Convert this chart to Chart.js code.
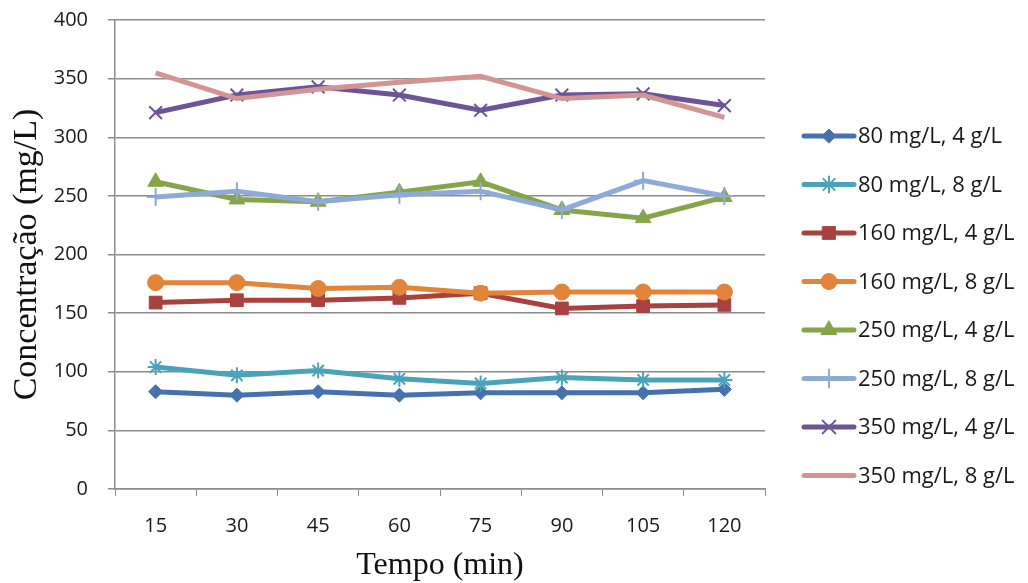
<!DOCTYPE html>
<html>
<head>
<meta charset="utf-8">
<script src="https://cdn.jsdelivr.net/npm/chart.js@4.4.1/dist/chart.umd.min.js"></script>
<style>
  html, body { margin: 0; padding: 0; background: #fff; }
  #wrap { width: 1028px; height: 583px; position: relative; }
</style>
</head>
<body>
<div id="wrap"><canvas id="myChart" width="1028" height="583"></canvas></div>
<script>
const tempos = ['15', '30', '45', '60', '75', '90', '105', '120'];

const c80_4 = [83, 80, 83, 80, 82, 82, 82, 85];
const c80_8 = [104, 97, 101, 94, 90, 95, 93, 93];
const c160_4 = [159, 161, 161, 163, 167, 154, 156, 157];
const c160_8 = [176, 176, 171, 172, 167, 168, 168, 168];
const c250_4 = [262, 247, 245, 253, 262, 238, 231, 249];
const c250_8 = [249, 254, 245, 251, 254, 238, 263, 250];
const c350_4 = [321, 336, 343, 336, 323, 336, 337, 327];
const c350_8 = [355, 333, 341, 347, 352, 333, 336, 317];

const seriesNames = ['80 mg/L, 4 g/L', '80 mg/L, 8 g/L', '160 mg/L, 4 g/L', '160 mg/L, 8 g/L',
  '250 mg/L, 4 g/L', '250 mg/L, 8 g/L', '350 mg/L, 4 g/L', '350 mg/L, 8 g/L'];
const seriesData = [c80_4, c80_8, c160_4, c160_8, c250_4, c250_8, c350_4, c350_8];
const colors = ['#4572AE', '#4AA3B8', '#A9413E', '#E2843A', '#86A44A', '#8EAAD6', '#6D5496', '#D39594'];
const markers = ['rectRot', 'star', 'rect', 'circle', 'triangle', 'cross', 'crossRot', false];
const radii = [7, 8, 9, 8, 9, 9, 9, 0];

const datasets = seriesNames.map((name, i) => ({
  label: name,
  data: seriesData[i],
  borderColor: colors[i],
  backgroundColor: colors[i],
  borderWidth: 5,
  pointStyle: markers[i],
  pointRadius: radii[i],
  pointBorderWidth: (markers[i] === 'star' || markers[i] === 'cross' || markers[i] === 'crossRot') ? 2 : 1,
  pointHoverRadius: radii[i],
  tension: 0,
  order: 7 - i
}));

// legend on the right: line sample with marker, then the label
const sideLegend = {
  id: 'sideLegend',
  afterDraw(chart) {
    const ctx = chart.ctx;
    ctx.save();
    datasets.forEach((ds, i) => {
      const y = 136 + i * 48.5;
      ctx.strokeStyle = ds.borderColor;
      ctx.lineWidth = 5;
      ctx.lineCap = 'round';
      ctx.beginPath();
      ctx.moveTo(804, y);
      ctx.lineTo(854, y);
      ctx.stroke();
      if (ds.pointStyle) {
        ctx.fillStyle = ds.backgroundColor;
        ctx.strokeStyle = ds.borderColor;
        ctx.lineWidth = ds.pointBorderWidth;
        Chart.helpers.drawPoint(ctx, { pointStyle: ds.pointStyle, radius: ds.pointRadius, rotation: 0, borderWidth: ds.pointBorderWidth }, 829, y);
      }
      ctx.fillStyle = '#1a1a1a';
      ctx.font = '22px "Open Sans"';
      ctx.textBaseline = 'middle';
      ctx.textAlign = 'left';
      ctx.fillText(ds.label, 858, y + 1);
    });
    ctx.restore();
  }
};

new Chart(document.getElementById('myChart'), {
  type: 'line',
  data: { labels: tempos, datasets: datasets },
  options: {
    responsive: false,
    animation: false,
    layout: { padding: { top: 20, right: 263, bottom: -2, left: 0 } },
    plugins: {
      legend: { display: false },
      tooltip: { enabled: false }
    },
    scales: {
      x: {
        offset: true,
        afterFit(scale) { scale.height = 96; },
        grid: { drawOnChartArea: false, offset: true, tickLength: 7, color: '#8c8c8c' },
        border: { color: '#8c8c8c', width: 1.5 },
        ticks: { color: '#1a1a1a', font: { family: 'Open Sans', size: 20 }, padding: 18, maxRotation: 0 },
        title: { display: true, text: 'Tempo (min)', color: '#111', font: { family: 'Liberation Serif', size: 32 }, padding: { top: 0, bottom: 0 } }
      },
      y: {
        min: 0,
        max: 400,
        afterFit(scale) { scale.width = 115; },
        // long tick with a dash pattern: labels sit 27px left of the axis, only 7px of mark shows
        ticks: { stepSize: 50, color: '#1a1a1a', font: { family: 'Open Sans', size: 20 }, padding: 0 },
        grid: { color: '#8c8c8c', lineWidth: 1.5, tickLength: 27, tickBorderDash: [0, 20, 7, 100] },
        border: { color: '#8c8c8c', width: 1.5 },
        title: { display: true, text: 'Concentração (mg/L)', color: '#111', font: { family: 'Liberation Serif', size: 34 }, padding: { top: 7, bottom: 0 } }
      }
    }
  },
  plugins: [sideLegend]
});
</script>
</body>
</html>
